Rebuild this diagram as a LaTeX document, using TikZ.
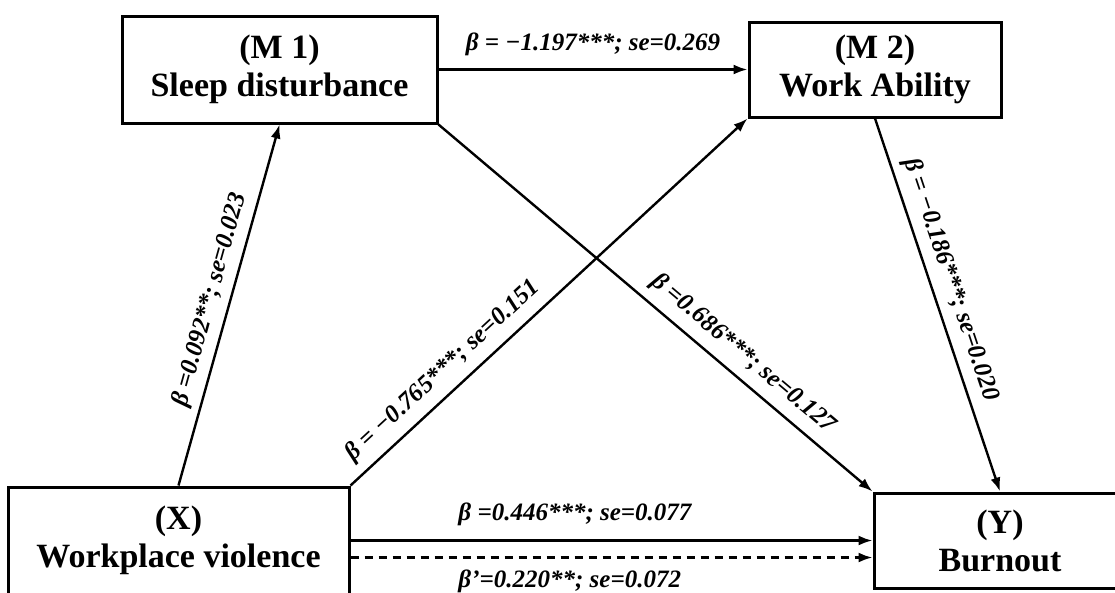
\documentclass[tikz,border=0pt]{standalone}
\usepackage{fontspec}
\setmainfont{Liberation Serif}
\usetikzlibrary{arrows.meta}
\begin{document}
\begin{tikzpicture}[x=1pt,y=-1pt,
  box/.style={draw, line width=3pt, align=center, inner sep=0pt,
    font=\fontsize{34}{38}\selectfont\bfseries},
  arr/.style={line width=2.4pt, -{Latex[length=14pt,width=10pt]}},
  lab/.style={font=\fontsize{25}{28}\selectfont\bfseries\itshape, inner sep=0pt}]
\useasboundingbox (0,0) rectangle (1115,592);
\node[box, minimum width=315pt, minimum height=107pt] (m1) at (279.5,69.5) {(M 1)\\Sleep disturbance};
\node[box, minimum width=252pt, minimum height=95pt] (m2) at (875,69.5) {(M 2)\\Work Ability};
\node[box, minimum width=341pt, minimum height=107pt] (x) at (178.5,540.5) {(X)\\Workplace violence};
\node[box, minimum width=252pt, minimum height=95pt] (y) at (1000,540.5) {(Y)\\Burnout};
\draw[arr] (m1.east) -- node[lab, above=12pt] {β = −1.197***; se=0.269} (m2.west);
\draw[arr] (x.north) -- node[lab, sloped, above=7pt, pos=0.5] {β =0.092**; se=0.023} (m1.south);
\draw[arr] (x.north east) -- node[lab, sloped, above=9pt, pos=0.27] {β = −0.765***; se=0.151} (m2.south west);
\draw[arr] (m1.south east) -- node[lab, sloped, above=9pt, pos=0.67] {β =0.686***; se=0.127} (y.north west);
\draw[arr] (m2.south) -- node[lab, sloped, above=8pt, pos=0.45] {β = −0.186***; se=0.020} (y.north);
\draw[arr] (x.east) -- node[lab, above=13pt, pos=0.43] {β =0.446***; se=0.077} (y.west);
\draw[arr, dash pattern=on 8pt off 6pt] ([yshift=-17pt]x.east) -- node[lab, below=11pt, pos=0.42] {β’=0.220**; se=0.072} ([yshift=-17pt]y.west);
\end{tikzpicture}
\end{document}
